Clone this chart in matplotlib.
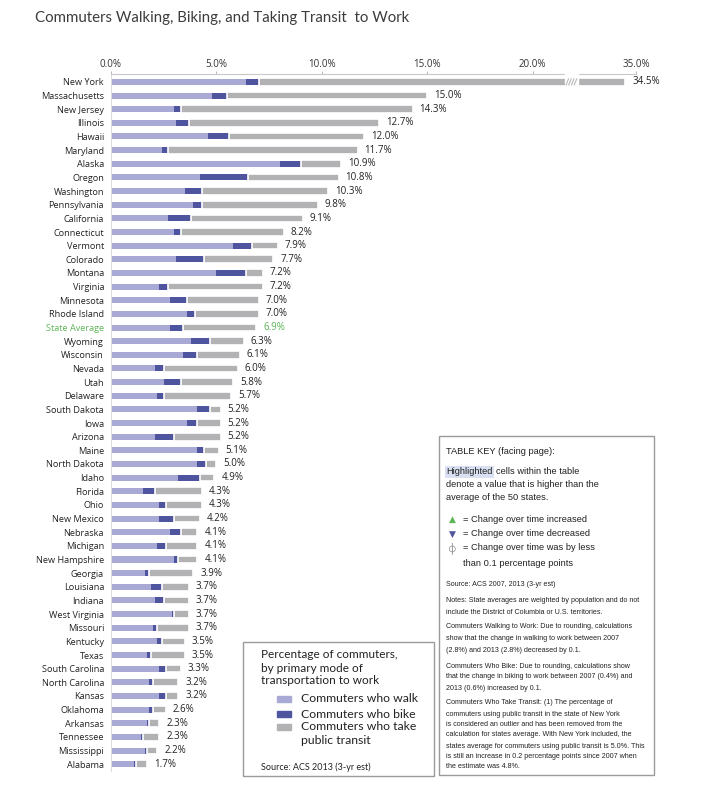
import matplotlib.pyplot as plt
import matplotlib.patches as mpatches
import numpy as np

states = ['New York', 'Massachusetts', 'New Jersey', 'Illinois', 'Hawaii', 'Maryland',
          'Alaska', 'Oregon', 'Washington', 'Pennsylvania', 'California', 'Connecticut',
          'Vermont', 'Colorado', 'Montana', 'Virginia', 'Minnesota', 'Rhode Island',
          'State Average', 'Wyoming', 'Wisconsin', 'Nevada', 'Utah', 'Delaware',
          'South Dakota', 'Iowa', 'Arizona', 'Maine', 'North Dakota', 'Idaho', 'Florida',
          'Ohio', 'New Mexico', 'Nebraska', 'Michigan', 'New Hampshire', 'Georgia',
          'Louisiana', 'Indiana', 'West Virginia', 'Missouri', 'Kentucky', 'Texas',
          'South Carolina', 'North Carolina', 'Kansas', 'Oklahoma', 'Arkansas',
          'Tennessee', 'Mississippi', 'Alabama']

walk = [6.4, 4.8, 3.0, 3.1, 4.6, 2.4, 8.0, 4.2, 3.5, 3.9, 2.7, 3.0, 5.8, 3.1, 5.0, 2.3,
        2.8, 3.6, 2.8, 3.8, 3.4, 2.1, 2.5, 2.2, 4.1, 3.6, 2.1, 4.1, 4.1, 3.2, 1.5, 2.3,
        2.3, 2.8, 2.2, 3.0, 1.6, 1.9, 2.1, 2.9, 2.0, 2.2, 1.7, 2.3, 1.8, 2.3, 1.8, 1.7,
        1.4, 1.6, 1.1]
bike = [0.6, 0.7, 0.3, 0.6, 1.0, 0.3, 1.0, 2.3, 0.8, 0.4, 1.1, 0.3, 0.9, 1.3, 1.4, 0.4,
        0.8, 0.4, 0.6, 0.9, 0.7, 0.4, 0.8, 0.3, 0.6, 0.5, 0.9, 0.3, 0.4, 1.0, 0.6, 0.3,
        0.7, 0.5, 0.4, 0.2, 0.2, 0.5, 0.4, 0.1, 0.2, 0.2, 0.2, 0.3, 0.2, 0.3, 0.2, 0.1,
        0.1, 0.1, 0.1]
transit = [27.5, 9.5, 11.0, 9.0, 6.4, 9.0, 1.9, 4.3, 6.0, 5.5, 5.3, 4.9, 1.2, 3.3, 0.8,
           4.5, 3.4, 3.0, 3.5, 1.6, 2.0, 3.5, 2.5, 3.2, 0.5, 1.1, 2.2, 0.7, 0.5, 0.7, 2.2,
           1.7, 1.2, 0.8, 1.5, 0.9, 2.1, 1.3, 1.2, 0.7, 1.5, 1.1, 1.6, 0.7, 1.2, 0.6, 0.6,
           0.5, 0.8, 0.5, 0.5]
totals = [34.5, 15.0, 14.3, 12.7, 12.0, 11.7, 10.9, 10.8, 10.3, 9.8, 9.1, 8.2, 7.9, 7.7,
          7.2, 7.2, 7.0, 7.0, 6.9, 6.3, 6.1, 6.0, 5.8, 5.7, 5.2, 5.2, 5.2, 5.1, 5.0, 4.9,
          4.3, 4.3, 4.2, 4.1, 4.1, 4.1, 3.9, 3.7, 3.7, 3.7, 3.7, 3.5, 3.5, 3.3, 3.2, 3.2,
          2.6, 2.3, 2.3, 2.2, 1.7]

ticks = [0, 5, 10, 15, 20, 35]
tick_labels = ['0.0%', '5.0%', '10.0%', '15.0%', '20.0%', '35.0%']

WALK = '#a9a9d5'
BIKE = '#4f549f'
TRANSIT = '#b2b2b4'
GREEN = '#5db557'
TXT = '#222222'

# broken x axis: the stretch between 21.5% and 33% is squeezed
brk_in = [-10, 0, 21.5, 33, 60]
brk_out = [-10, 0, 21.5, 22.9, 49.9]


def fwd(x):
    return np.interp(x, brk_in, brk_out)


def inv(x):
    return np.interp(x, brk_out, brk_in)


W, H = 711, 796


def fx(x):
    return x / W


def fy(y):
    return 1 - y / H


fig = plt.figure(figsize=(W / 100, H / 100), dpi=100)
ax = fig.add_axes([fx(111), fy(771), (636 - 111) / W, (771 - 74) / H])
ax.set_xscale('function', functions=(fwd, inv))

y = np.arange(len(states))
left_t = [w + b for w, b in zip(walk, bike)]
ax.barh(y, walk, height=0.44, color=WALK)
ax.barh(y, bike, left=walk, height=0.44, color=BIKE)
ax.barh(y, transit, left=left_t, height=0.56, color=TRANSIT, edgecolor='white', linewidth=1.2)

for i, t in enumerate(totals):
    ax.annotate(f'{t:.1f}%', (left_t[i] + transit[i], i), xytext=(5, 0),
                textcoords='offset points', va='center', ha='left', fontsize=7,
                color=GREEN if states[i] == 'State Average' else TXT, family='Open Sans')

# break marks on the New York bar
d0, d1 = inv(21.55), inv(22.15)
ax.add_patch(mpatches.Rectangle((d0, -0.35), d1 - d0, 0.7, color='white', zorder=3))
for k in range(4):
    xa = inv(21.58 + k * 0.13)
    xb = inv(21.70 + k * 0.13)
    ax.plot([xa, xb], [0.22, -0.22], color='#b8b8b8', lw=0.8, zorder=4)
ax.add_patch(mpatches.Rectangle((d0, -0.75), d1 - d0, 0.3, color='white', zorder=3,
                                clip_on=False))

ax.set_xlim(0, 35)
ax.set_ylim(50.5, -0.58)
ax.xaxis.tick_top()
ax.set_xticks(ticks, tick_labels)
ax.tick_params(axis='x', length=2, width=0.8, color='#bbbbbb', labelsize=7,
               labelcolor='#333333', pad=1)
ax.set_yticks(y, states)
ax.tick_params(axis='y', length=0, labelsize=6.6, labelcolor=TXT, pad=5)
for lab in ax.get_xticklabels() + ax.get_yticklabels():
    lab.set_family('Open Sans')
for lab in ax.get_yticklabels():
    if lab.get_text() == 'State Average':
        lab.set_color(GREEN)
ax.spines['top'].set_color('#c8c8c8')
ax.spines['left'].set_color('#dcdcdc')
ax.spines['right'].set_visible(False)
ax.spines['bottom'].set_visible(False)

fig.text(fx(35), fy(18), 'Commuters Walking, Biking, and Taking Transit  to Work',
         fontsize=10.8, color='#3c3c3c', family='Lato', va='center')

# legend box
fig.patches.append(mpatches.Rectangle((fx(243), fy(776)), (434 - 243) / W, (776 - 642) / H,
                                      transform=fig.transFigure, fill=False,
                                      edgecolor='#9a9a9a', lw=1))
for ty, line in zip([655, 668, 680], ['Percentage of commuters,', 'by primary mode of',
                                       'transportation to work']):
    fig.text(fx(261), fy(ty), line, fontsize=8.5, family='Lato', color=TXT, va='center')
for ty, col, line in zip([699, 714, 727], [WALK, BIKE, TRANSIT],
                         ['Commuters who walk', 'Commuters who bike', 'Commuters who take']):
    fig.patches.append(mpatches.Rectangle((fx(277), fy(ty + 3)), 14 / W, 6 / H,
                                          transform=fig.transFigure, color=col))
    fig.text(fx(301), fy(ty), line, fontsize=8.8, family='Lato', color=TXT, va='center')
fig.text(fx(301), fy(740), 'public transit', fontsize=8.8, family='Lato', color=TXT,
         va='center')
fig.text(fx(261), fy(767), 'Source: ACS 2013 (3-yr est)', fontsize=6.5, family='Lato',
         color=TXT, va='center')

# table key box
NARROW = ['Liberation Sans', 'DejaVu Sans']
SYM = ['DejaVu Sans', 'DejaVu Sans Mono']
fig.patches.append(mpatches.Rectangle((fx(439), fy(775)), (654 - 439) / W, (775 - 436) / H,
                                      transform=fig.transFigure, fill=False,
                                      edgecolor='#9a9a9a', lw=1))
fig.text(fx(446), fy(451), 'TABLE KEY (facing page):', fontsize=6.7, family=NARROW,
         color=TXT, va='center')
hl = fig.text(fx(446), fy(472), 'Highlighted', fontsize=6.7, family=NARROW, color=TXT,
              va='center', bbox=dict(facecolor='#d9e0f1', edgecolor='none', pad=1))
ax.annotate('cells within the table', xy=(1, 0.5), xycoords=hl, xytext=(2.5, 0),
            textcoords='offset points', fontsize=6.7, family=NARROW, color=TXT,
            va='center', ha='left')
fig.text(fx(446), fy(485), 'denote a value that is higher than the', fontsize=6.7,
         family=NARROW, color=TXT, va='center')
fig.text(fx(446), fy(498), 'average of the 50 states.', fontsize=6.7, family=NARROW,
         color=TXT, va='center')
for ty, sym, col, line in zip([519, 534, 548],
                              ['\u25b2', '\u25bc', '\u233d'],
                              [GREEN, BIKE, '#888888'],
                              ['= Change over time increased', '= Change over time decreased',
                               '= Change over time was by less']):
    fig.text(fx(452), fy(ty), sym, fontsize=6.5 if sym != '\u233d' else 8, family=SYM,
             color=col, va='center', ha='center')
    fig.text(fx(463), fy(ty), line, fontsize=6.7, family=NARROW, color=TXT, va='center')
fig.text(fx(463), fy(563), 'than 0.1 percentage points', fontsize=6.7, family=NARROW,
         color=TXT, va='center')

notes = [(585, 'Source: ACS 2007, 2013 (3-yr est)'),
         (600, 'Notes: State averages are weighted by population and do not'),
         (612, 'include the District of Columbia or U.S. territories.'),
         (627, 'Commuters Walking to Work: Due to rounding, calculations'),
         (638, 'show that the change in walking to work between 2007'),
         (650, '(2.8%) and 2013 (2.8%) decreased by 0.1.'),
         (667, 'Commuters Who Bike: Due to rounding, calculations show'),
         (677, 'that the change in biking to work between 2007 (0.4%) and'),
         (688, '2013 (0.6%) increased by 0.1.'),
         (703, 'Commuters Who Take Transit: (1) The percentage of'),
         (714, 'commuters using public transit in the state of New York'),
         (725, 'is considered an outlier and has been removed from the'),
         (735, 'calculation for states average. With New York included, the'),
         (746, 'states average for commuters using public transit is 5.0%. This'),
         (757, 'is still an increase in 0.2 percentage points since 2007 when'),
         (767, 'the estimate was 4.8%.')]
for ty, line in notes:
    fig.text(fx(446), fy(ty), line, fontsize=5.1, family=NARROW, color=TXT, va='center')

fig.savefig('out.png', dpi=100)
